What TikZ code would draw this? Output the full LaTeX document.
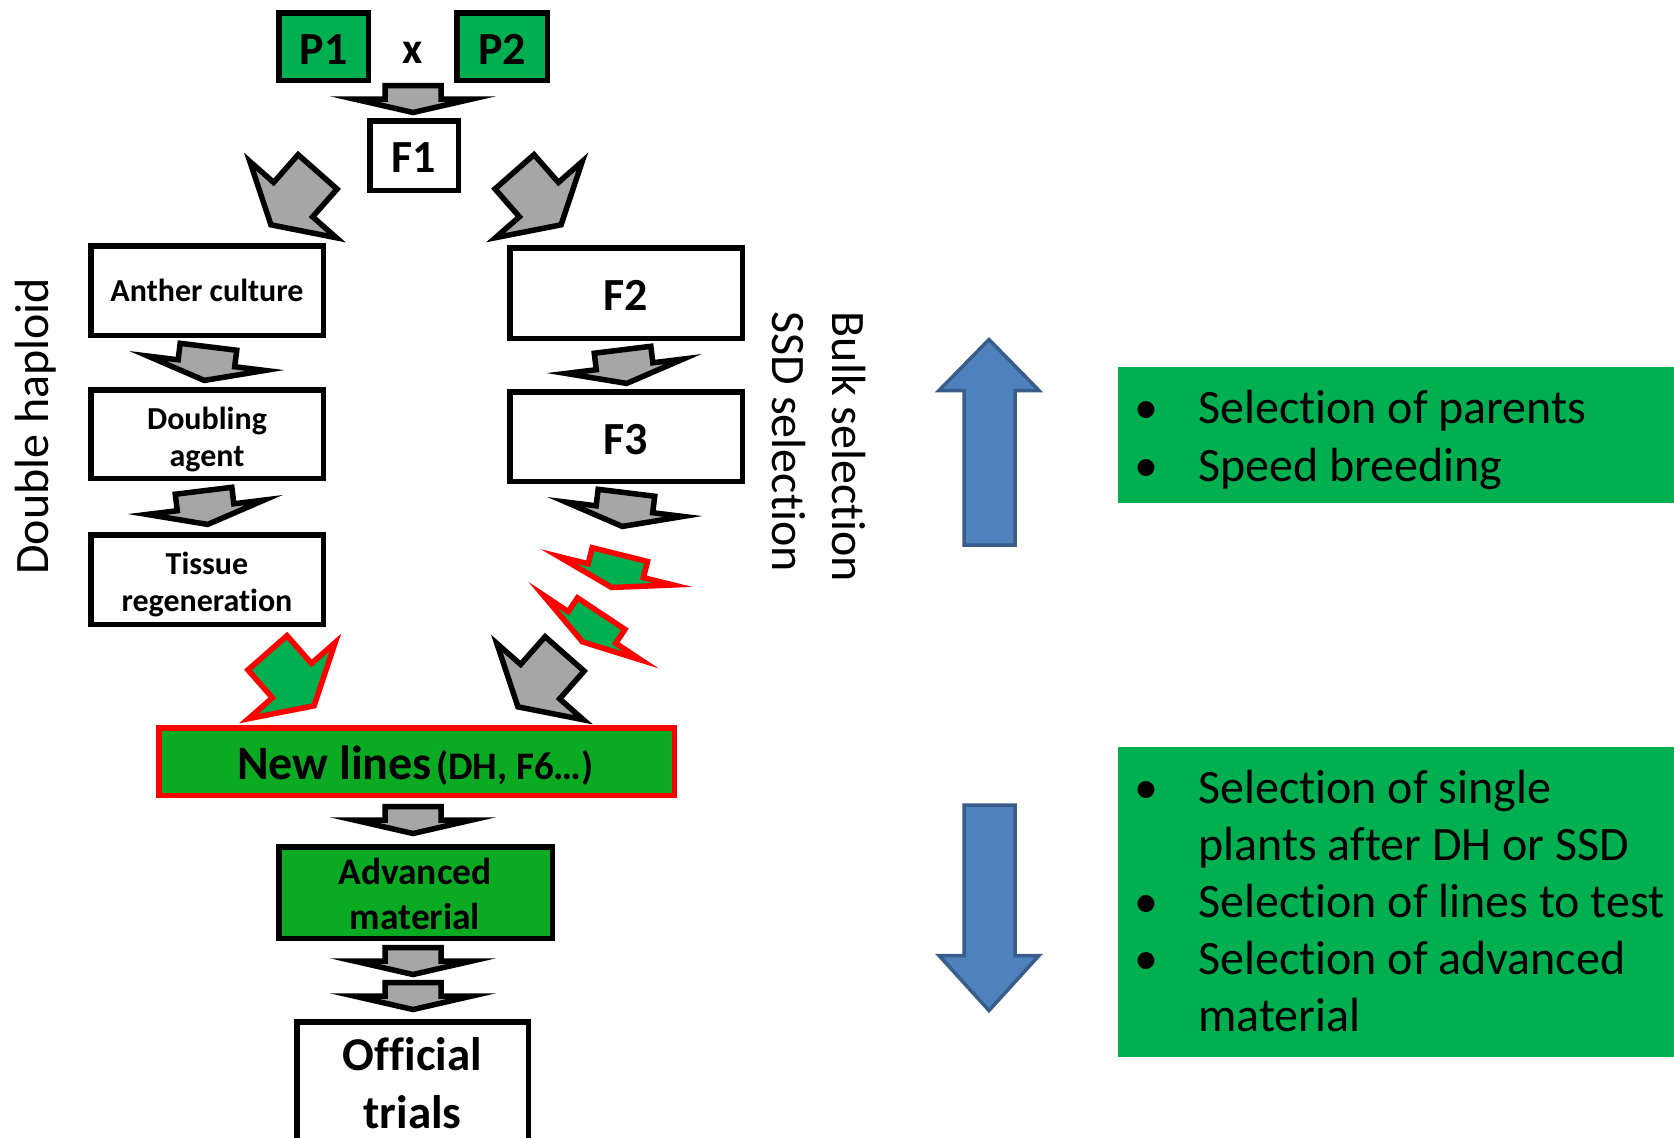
\documentclass[tikz,border=0pt]{standalone}
\usepackage{fontspec}
\setmainfont{Carlito}[Ligatures={NoCommon,NoContextual}]
\newcommand\pxfont[1]{\fontsize{#1}{#1}\selectfont}
\definecolor{boxgreen}{HTML}{00B050}
\definecolor{linegreen}{HTML}{0AAA22}
\definecolor{arrowgray}{HTML}{A6A6A6}
\definecolor{bluefill}{HTML}{4F81BD}
\definecolor{blueline}{HTML}{385D8A}
\tikzset{
  % block arrows, drawn pointing down with the outer tip at the origin
  pics/flatarrow/.style={code={\path[pic actions] (0,-2.5) -- (59,-16) -- (28,-16) -- (28,-29.5) -- (-28,-29.5) -- (-28,-16) -- (-59,-16) -- cycle;}},
  pics/tiltarrow/.style={code={\path[pic actions] (0,-2.6) -- (59,-19.9) -- (28.5,-19.9) -- (28.5,-36.5) -- (-28.5,-36.5) -- (-28.5,-19.9) -- (-59,-19.9) -- cycle;}},
  pics/bigarrow/.style={code={\path[pic actions] (0,-2.9) -- (57.7,-36.5) -- (26,-36.5) -- (26,-73.5) -- (-26,-73.5) -- (-26,-36.5) -- (-57.7,-36.5) -- cycle;}},
  grayarrow/.style={draw=black, fill=arrowgray, line width=5.5},
  redarrow/.style={draw=red, fill=boxgreen, line width=5.5},
  stepbox/.style={rectangle, draw=black, fill=white, line width=5.5, inner sep=0},
  parentbox/.style={stepbox, fill=boxgreen},
  linebox/.style={stepbox, draw=red, fill=linegreen},
  advbox/.style={stepbox, fill=linegreen},
  panel/.style={rectangle, fill=boxgreen, inner sep=0, anchor=north west},
  lbl/.style={inner sep=0, anchor=base},
  item/.style={inner sep=0, anchor=base west, font=\pxfont{48}},
  dot/.style={inner sep=0, anchor=base, font=\pxfont{48}},
  bluearrow/.style={draw=blueline, fill=bluefill, line width=3.5},
}
\begin{document}
\begin{tikzpicture}[x=1pt, y=-1pt, line join=miter, miter limit=20]
\useasboundingbox (0,0) rectangle (1674,1138);
\clip (0,0) rectangle (1674,1138);
\fill[white] (0,0) rectangle (1674,1138);

% parents and F1
\node[parentbox, minimum width=89.5, minimum height=67.5] (p1) at (323.5,46.5) {};
\node[parentbox, minimum width=90.5, minimum height=67.5] (p2) at (502,46.5) {};
\node[lbl, font=\bfseries\pxfont{46}] (p1t) at (323.5,64) {P1};
\node[lbl, font=\bfseries\pxfont{46}] (p2t) at (502,64) {P2};
\node[lbl, font=\bfseries\pxfont{44}] (cross) at (413,63.3) {x};
\node[stepbox, minimum width=88.5, minimum height=69.5] (f1) at (414,155.5) {};
\node[lbl, font=\bfseries\pxfont{46}] (f1t) at (414,172.5) {F1};

% double haploid branch
\node[stepbox, minimum width=232.5, minimum height=89.5] (anther) at (207,290.5) {};
\node[lbl, font=\bfseries\pxfont{32}] (anthert) at (207,301.5) {Anther culture};
\node[stepbox, minimum width=232.5, minimum height=88.5] (doubling) at (207,434) {};
\node[lbl, font=\bfseries\pxfont{32}] (doublingt) at (207,429.5) {Doubling};
\node[lbl, font=\bfseries\pxfont{32}] (doublingu) at (207,466) {agent};
\node[stepbox, minimum width=232.5, minimum height=89.5] (tissue) at (207,579.5) {};
\node[lbl, font=\bfseries\pxfont{32}] (tissuet) at (207,574.5) {Tissue};
\node[lbl, font=\bfseries\pxfont{32}] (tissueu) at (207,611.5) {regeneration};
\node[rotate=90, inner sep=0, anchor=base west, font=\pxfont{48}] (dh) at (48.5,575) {Double haploid};

% bulk / SSD branch
\node[stepbox, minimum width=232.5, minimum height=90.5] (f2) at (626,293) {};
\node[lbl, font=\bfseries\pxfont{46}] (f2t) at (626,310) {F2};
\node[stepbox, minimum width=232.5, minimum height=89.5] (f3) at (626,436.5) {};
\node[lbl, font=\bfseries\pxfont{46}] (f3t) at (626,454) {F3};
\node[rotate=-90, inner sep=0, anchor=base west, font=\pxfont{48}] (bulk) at (832,311.5) {Bulk selection};
\node[rotate=-90, inner sep=0, anchor=base west, font=\pxfont{48}] (ssd) at (772,311.5) {SSD selection};

% lines and trials
\node[linebox, minimum width=515.5, minimum height=67.5] (lines) at (416.5,761.5) {};
\node[inner sep=0, anchor=base west, font=\bfseries\pxfont{48}] (linest) at (237,779) {New lines\hspace{4pt}{\pxfont{39}(DH, F6…)}};
\node[advbox, minimum width=273.5, minimum height=91.5] (adv) at (415.5,892.5) {};
\node[lbl, font=\bfseries\pxfont{37.5}] (advt) at (415,884) {Advanced};
\node[lbl, font=\bfseries\pxfont{37.5}] (advu) at (415,929) {material};
\node[stepbox, minimum width=231.5, minimum height=155.5] (trials) at (412.5,1099.5) {};
\node[lbl, font=\bfseries\pxfont{47}] (trialst) at (412.5,1070) {Official};
\node[lbl, font=\bfseries\pxfont{47}] (trialsu) at (412.5,1128) {trials};

% block arrows between the steps
\pic[grayarrow] at (413,115) {flatarrow};
\pic[grayarrow, rotate=-41.4] at (269,227) {bigarrow};
\pic[grayarrow, rotate=41.3] at (563,227) {bigarrow};
\pic[grayarrow, rotate=-7] at (204,383) {tiltarrow};
\pic[grayarrow, rotate=7] at (208,527) {tiltarrow};
\pic[grayarrow, rotate=7] at (627,386) {tiltarrow};
\pic[grayarrow, rotate=-7] at (622,529) {tiltarrow};
\pic[redarrow, rotate=-14] at (611,590) {tiltarrow};
\pic[redarrow, rotate=-33.6] at (581,644) {tiltarrow};
\pic[redarrow, rotate=41.3] at (316,708) {bigarrow};
\pic[grayarrow, rotate=-41.4] at (516,709) {bigarrow};
\pic[grayarrow] at (413,836) {flatarrow};
\pic[grayarrow] at (413,977) {flatarrow};
\pic[grayarrow] at (413,1012) {flatarrow};

% selection stages
\draw[bluearrow] (989,339.5) -- (1039,390.5) -- (1015,390.5) -- (1015,545) -- (964,545) -- (964,390.5) -- (939,390.5) -- cycle;
\draw[bluearrow] (989,1010.5) -- (1039,955.5) -- (1015,955.5) -- (1015,805) -- (964,805) -- (964,955.5) -- (939,955.5) -- cycle;

\node[panel, minimum width=556, minimum height=136] (panelup) at (1118,367) {};
\node[dot] (bu1) at (1146,423) {•};
\node[item] (tu1) at (1198,423) {Selection of parents};
\node[dot] (bu2) at (1146,481) {•};
\node[item] (tu2) at (1198,481) {Speed breeding};

\node[panel, minimum width=556, minimum height=310] (paneldown) at (1118,747) {};
\node[dot] (bd1) at (1146,803) {•};
\node[item] (td1) at (1198,803) {Selection of single};
\node[item] (td1b) at (1198,860) {plants after DH or SSD};
\node[dot] (bd2) at (1146,917) {•};
\node[item] (td2) at (1198,917) {Selection of lines to test};
\node[dot] (bd3) at (1146,974.5) {•};
\node[item] (td3) at (1198,974.5) {Selection of advanced};
\node[item] (td3b) at (1198,1031.5) {material};
\end{tikzpicture}
\end{document}
